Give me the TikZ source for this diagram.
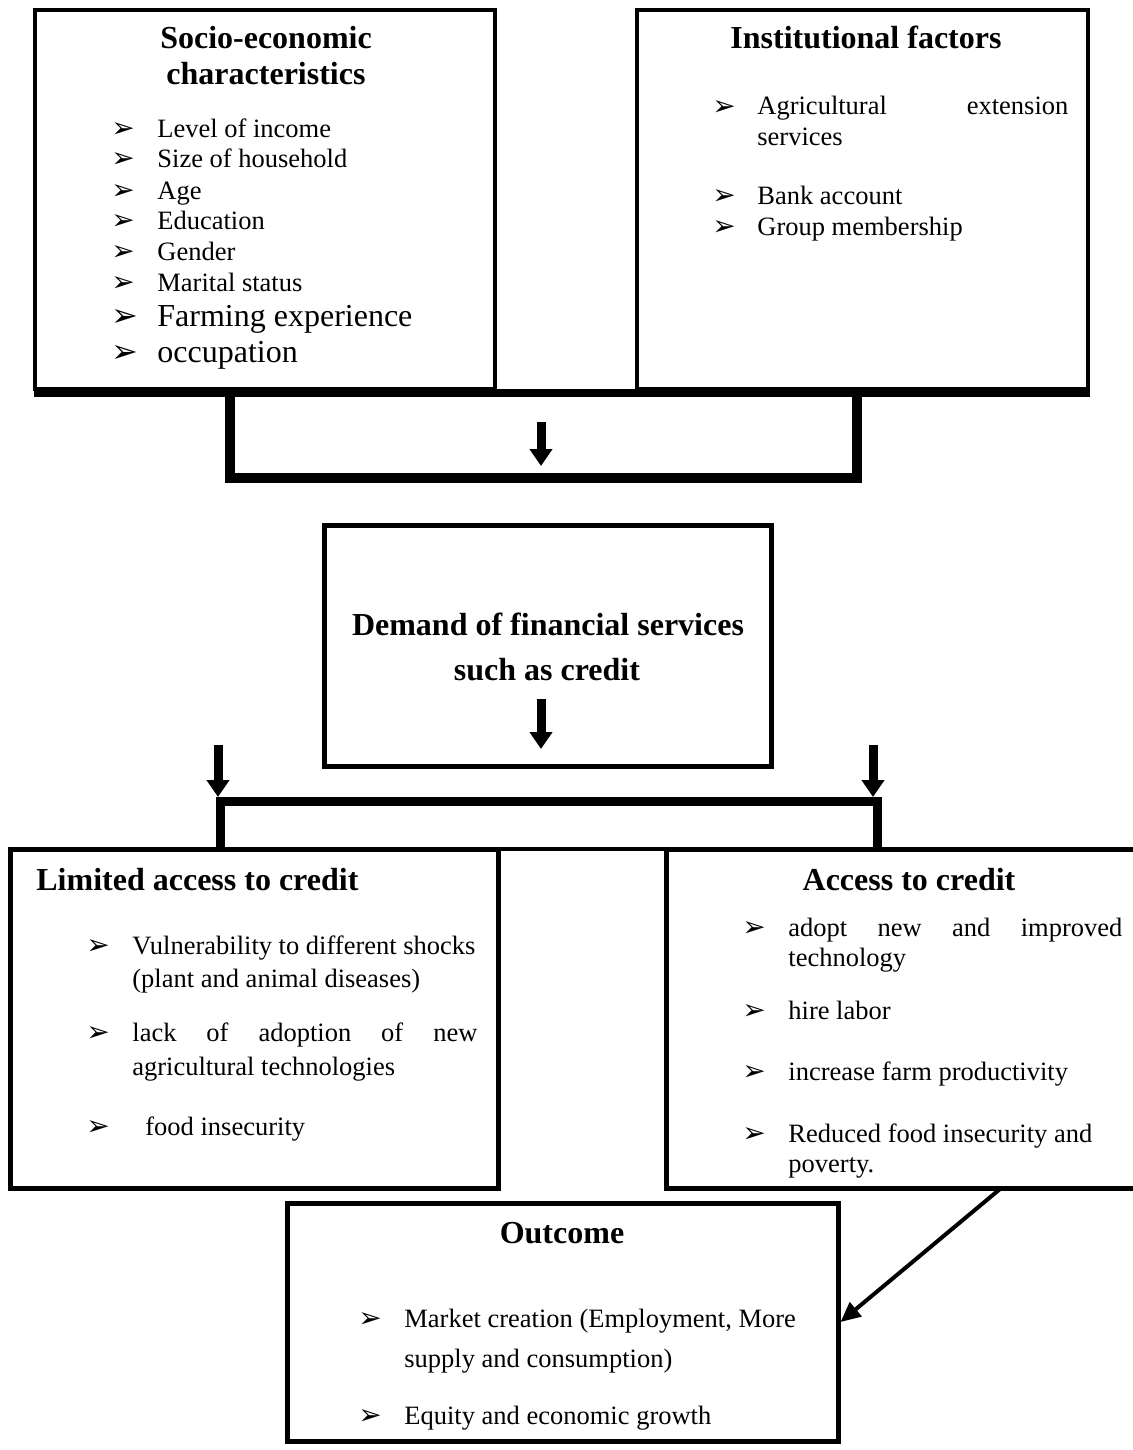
\documentclass[tikz,border=0pt]{standalone}
\usepackage{fontspec}
\setmainfont{Liberation Serif}
\newfontfamily\dejavu{DejaVu Sans}
\usetikzlibrary{arrows.meta}
\begin{document}
\begin{tikzpicture}[x=0.5pt,y=-0.5pt,
  box/.style={draw, line width=2pt, rectangle, inner sep=0pt},
  tx/.style={inner sep=0pt, anchor=west, font=\fontsize{13.25}{15}\selectfont, text height=9.5pt, text depth=2.5pt},
  bigtx/.style={tx, font=\fontsize{16}{18}\selectfont, text height=11.5pt, text depth=3pt},
  ttl/.style={inner sep=0pt, anchor=center, font=\fontsize{16}{18}\selectfont\bfseries, text height=11.5pt, text depth=3pt},
  bul/.style={inner sep=0pt, anchor=west, font=\dejavu\fontsize{14}{15}\selectfont},
  bigbul/.style={bul, font=\dejavu\fontsize{16}{17}\selectfont},
  fat/.style={line width=4.5pt, -{Triangle[width=11pt,length=8.5pt]}},
  thinarrow/.style={line width=2pt, -{Triangle[width=9pt,length=10pt]}},
]
\useasboundingbox (0,0) rectangle (1133,1450);
\clip (0,0) rectangle (1133,1450);

% ---------- Socio-economic box
\node[box, minimum width=230pt, minimum height=189.5pt] (se) at (265,199.5) {};
\node[ttl] (se1) at (266,40) {Socio-economic};
\node[ttl] (se2) at (266,76) {characteristics};
\node[bul] (sb1) at (111,130) {➢}; \node[tx] (st1) at (157,130) {Level of income};
\node[bul] (sb2) at (111,160) {➢}; \node[tx] (st2) at (157,160) {Size of household};
\node[bul] (sb3) at (111,192) {➢}; \node[tx] (st3) at (157,192) {Age};
\node[bul] (sb4) at (111,222) {➢}; \node[tx] (st4) at (157,222) {Education};
\node[bul] (sb5) at (111,253) {➢}; \node[tx] (st5) at (157,253) {Gender};
\node[bul] (sb6) at (111,284) {➢}; \node[tx] (st6) at (157,284) {Marital status};
\node[bigbul] (sb7) at (111,318) {➢}; \node[bigtx] (st7) at (157,318) {Farming experience};
\node[bigbul] (sb8) at (111,354) {➢}; \node[bigtx] (st8) at (157,354) {occupation};

% ---------- Institutional box
\node[box, minimum width=225.5pt, minimum height=189.5pt] (inst) at (862.5,199.5) {};
\node[ttl] (in1) at (866,40) {Institutional factors};
\node[bul] (ib1) at (712,108) {➢}; \node[tx] (it1) at (757,108) {\makebox[155.5pt][s]{Agricultural extension}};
\node[tx] (it1b) at (757,138) {services};
\node[bul] (ib2) at (712,197) {➢}; \node[tx] (it2) at (757,197) {Bank account};
\node[bul] (ib3) at (712,228) {➢}; \node[tx] (it3) at (757,228) {Group membership};

% ---------- joining bar and bracket
\coordinate (bl) at (34,393);
\coordinate (br) at (1090,393);
\draw[line width=4pt] (bl) -- (br);
\coordinate (k1) at (230,393);
\coordinate (k2) at (230,478);
\coordinate (k3) at (857,478);
\coordinate (k4) at (857,393);
\draw[line width=5pt, line join=miter] (k1) -- (k2) -- (k3) -- (k4);
\coordinate (a1s) at (541,422);
\coordinate (a1e) at (541,466);
\draw[fat] (a1s) -- (a1e);

% ---------- Demand box
\node[box, line width=2.5pt, minimum width=223.5pt, minimum height=120.5pt] (dem) at (547.5,645.5) {};
\node[ttl] (de1) at (548,627) {Demand of financial services};
\node[ttl] (de2) at (547,672) {such as credit};
\coordinate (a2s) at (541,699);
\coordinate (a2e) at (541,749);
\draw[fat] (a2s) -- (a2e);

% ---------- lower bracket
\coordinate (a3s) at (218,745);
\coordinate (a3e) at (218,797);
\coordinate (a4s) at (873,745);
\coordinate (a4e) at (873,797);
\draw[fat] (a3s) -- (a3e);
\draw[fat] (a4s) -- (a4e);
\coordinate (m1) at (220,849);
\coordinate (m2) at (220,801);
\coordinate (m3) at (877,801);
\coordinate (m4) at (877,849);
\draw[line width=4.5pt, line join=miter] (m1) -- (m2) -- (m3) -- (m4);
\coordinate (hl) at (8,849);
\coordinate (hr) at (1140,849);
\draw[line width=2pt] (hl) -- (hr);

% ---------- Limited access box
\node[box, line width=2.5pt, minimum width=244pt, minimum height=169.5pt] (lim) at (254,1018.5) {};
\node[ttl, anchor=west] (li1) at (36,882) {Limited access to credit};
\node[bul] (lb1) at (86,947) {➢}; \node[tx] (lt1) at (132,947) {Vulnerability to different shocks};
\node[tx] (lt1b) at (132,980) {(plant and animal diseases)};
\node[bul] (lb2) at (86,1034) {➢}; \node[tx] (lt2) at (132,1034) {\makebox[172.5pt][s]{lack of adoption of new}};
\node[tx] (lt2b) at (132,1068) {agricultural technologies};
\node[bul] (lb3) at (86,1128) {➢}; \node[tx] (lt3) at (145,1128) {food insecurity};

% ---------- Access box
\node[box, line width=2.5pt, minimum width=242pt, minimum height=169.5pt] (acc) at (908,1018.5) {};
\node[ttl] (ac1) at (909,882) {Access to credit};
\node[bul] (ab1) at (742,929) {➢}; \node[tx] (at1) at (788,929) {\makebox[167pt][s]{adopt new and improved}};
\node[tx] (at1b) at (788,959) {technology};
\node[bul] (ab2) at (742,1012) {➢}; \node[tx] (at2) at (788,1012) {hire labor};
\node[bul] (ab3) at (742,1073) {➢}; \node[tx] (at3) at (788,1073) {increase farm productivity};
\node[bul] (ab4) at (742,1135) {➢}; \node[tx] (at4) at (788,1135) {Reduced food insecurity and};
\node[tx] (at4b) at (788,1165) {poverty.};

% ---------- Outcome box
\node[box, line width=2.5pt, minimum width=275.5pt, minimum height=119pt] (out) at (562.5,1322) {};
\node[ttl] (ou1) at (562,1235) {Outcome};
\node[bul] (ob1) at (358,1320) {➢}; \node[tx] (ot1) at (404,1320) {Market creation (Employment, More};
\node[tx] (ot1b) at (404,1360) {supply and consumption)};
\node[bul] (ob2) at (358,1417) {➢}; \node[tx] (ot2) at (404,1417) {Equity and economic growth};

\coordinate (acb) at (1000,1189);
\draw[thinarrow] (acb) -- (out.east);
\end{tikzpicture}
\end{document}
